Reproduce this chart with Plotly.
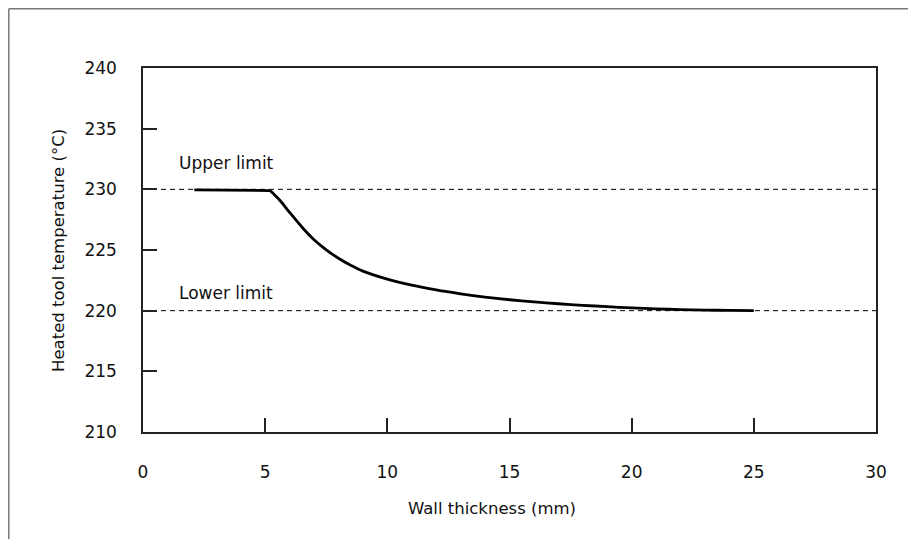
import plotly.graph_objects as go

# Data
# plateau at the upper limit (thin walls)
plateau_thickness = [2.1, 5.2]
plateau_temp = [229.95, 229.9]
# decline towards the lower limit
decline_thickness = [5.2, 5.6, 6.0, 6.5, 7.0, 7.5, 8.0, 8.5, 9.0, 10.0, 11.0, 12.0,
                     13.0, 14.0, 15.0, 16.0, 17.0, 18.0, 19.0, 20.0, 21.0, 22.0, 23.0, 24.0, 25.0]
decline_temp = [229.9, 229.1, 228.1, 226.9, 225.85, 225.02, 224.32, 223.74,
                223.26, 222.6, 222.1, 221.71, 221.39, 221.12, 220.9, 220.72, 220.57, 220.44, 220.33,
                220.23, 220.15, 220.09, 220.05, 220.02, 220.0]
limit_x = [0, 30]
upper_limit = [230, 230]
lower_limit = [220, 220]
x_ticks = [0, 5, 10, 15, 20, 25, 30]
y_ticks = [210, 215, 220, 225, 230, 235, 240]

FONT = "DejaVu Sans, sans-serif"

# page-pixel helpers (figure sits 8px inside the page)
PL, PR, PT, PB = 143, 876, 68, 432
def px(x):
    return (x - PL) / (PR - PL)
def py(y):
    return (PB - y) / (PB - PT)

fig = go.Figure()
fig.add_trace(go.Scatter(x=limit_x, y=upper_limit, mode="lines",
                         line=dict(color="black", width=1, dash="5px,4px"), showlegend=False))
fig.add_trace(go.Scatter(x=limit_x, y=lower_limit, mode="lines",
                         line=dict(color="black", width=1, dash="5px,4px"), showlegend=False))
fig.add_trace(go.Scatter(x=plateau_thickness, y=plateau_temp, mode="lines",
                         line=dict(color="black", width=2.8), showlegend=False))
fig.add_trace(go.Scatter(x=decline_thickness, y=decline_temp, mode="lines",
                         line=dict(color="black", width=2.8, shape="spline", smoothing=0.8),
                         showlegend=False))

fig.add_annotation(x=1.39, y=232.2, xref="x", yref="y", text="Upper limit", showarrow=False,
                   xanchor="left", yanchor="middle", font=dict(family=FONT, size=17, color="#111"))
fig.add_annotation(x=1.39, y=221.45, xref="x", yref="y", text="Lower limit", showarrow=False,
                   xanchor="left", yanchor="middle", font=dict(family=FONT, size=17, color="#111"))

# axis titles
fig.add_annotation(x=px(491.5), y=py(508), xref="paper", yref="paper",
                   text="Wall thickness (mm)", showarrow=False, xanchor="center", yanchor="middle",
                   font=dict(family=FONT, size=16.5, color="#111"))
fig.add_annotation(x=px(58), y=py(251), xref="paper", yref="paper",
                   text="Heated tool temperature (°C)", showarrow=False, textangle=-90,
                   xanchor="center", yanchor="middle",
                   font=dict(family=FONT, size=16.5, color="#111"))

# outer frame (left and top edges visible)
fx = px(8.8)
fy = py(8.8)
fig.add_shape(type="line", xref="paper", yref="paper", x0=fx, x1=fx, y0=-1, y1=fy,
              line=dict(color="#777", width=1.5))
fig.add_shape(type="line", xref="paper", yref="paper", x0=fx, x1=2, y0=fy, y1=fy,
              line=dict(color="#777", width=1.5))

fig.update_xaxes(range=[0, 30], tickvals=x_ticks, ticks="inside", ticklen=14, tickwidth=1.5,
                 tickcolor="#222", showline=True, linecolor="#222", linewidth=1.5, mirror=True,
                 showgrid=False, zeroline=False, ticklabelstandoff=24,
                 tickfont=dict(family=FONT, size=17, color="#111"))
fig.update_yaxes(range=[210, 240], tickvals=y_ticks, ticks="inside", ticklen=14, tickwidth=1.5,
                 tickcolor="#222", showline=True, linecolor="#222", linewidth=1.5, mirror=True,
                 showgrid=False, zeroline=False, ticklabelstandoff=21,
                 tickfont=dict(family=FONT, size=17, color="#111"))

fig.update_layout(width=916, height=539, margin=dict(l=PL - 8, r=916 - (PR - 8), t=PT - 8, b=539 - (PB - 8)),
                  plot_bgcolor="white", paper_bgcolor="white")

fig.write_html("out.html")
